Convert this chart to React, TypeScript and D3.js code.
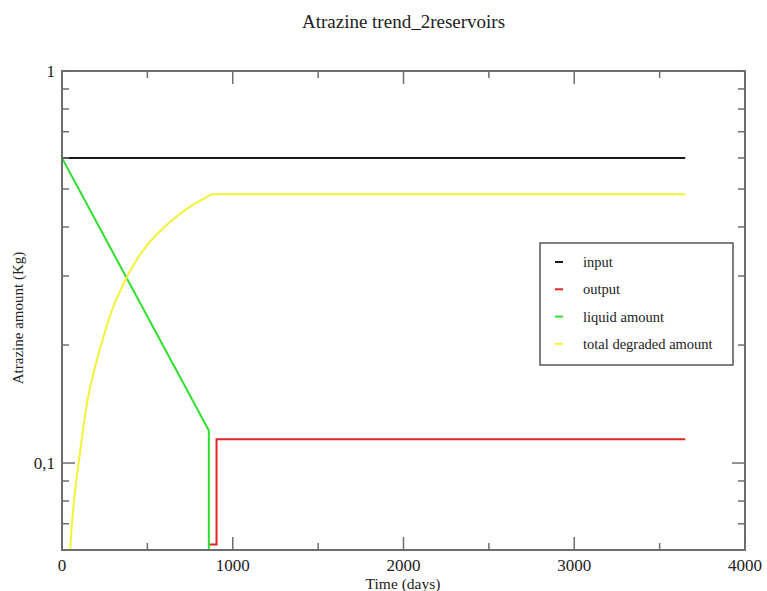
import * as d3 from 'd3';

// series (days, kg)
const inputSeries: Array<[number, number]> = [[0, 0.6], [3650, 0.6]];
const outputSeries: Array<[number, number]> = [[860, 0.062], [905, 0.062], [905, 0.115], [3650, 0.115]];
const liquidSeries: Array<[number, number]> = [[0, 0.6], [860, 0.121], [860, 0.01]];
const degradedRise: Array<[number, number]> = [
  [20, 0.025], [35, 0.045], [50, 0.062], [75, 0.084], [100, 0.102], [150, 0.145],
  [200, 0.18], [250, 0.215], [300, 0.25], [350, 0.28], [400, 0.31], [500, 0.36],
  [600, 0.4], [700, 0.435], [800, 0.464], [880, 0.485]
];
const degradedFlat: Array<[number, number]> = [[880, 0.485], [3650, 0.485]];

const xMajor = [0, 1000, 2000, 3000, 4000];
const xMinor = [500, 1500, 2500, 3500];
const yMajor = [0.1, 1];
const yMinor = [0.07, 0.08, 0.09, 0.2, 0.3, 0.4, 0.5, 0.6, 0.7, 0.8, 0.9];
const yLabels = ['0,1', '1'];

const legendItems = [
  { name: 'input', color: '#1a1a1a' },
  { name: 'output', color: '#e02424' },
  { name: 'liquid amount', color: '#2ee02e' },
  { name: 'total degraded amount', color: '#f2f236' }
];

export default function App() {
  const width = 767, height = 591;
  const left = 62, right = 745, top = 71, bottom = 550;
  const x = d3.scaleLinear().domain([0, 4000]).range([left, right]);
  const y = d3.scaleLog().domain([0.06, 1]).range([bottom, top]);
  const line = d3.line<[number, number]>().x(d => x(d[0])).y(d => y(d[1]));
  const smooth = d3.line<[number, number]>().x(d => x(d[0])).y(d => y(d[1])).curve(d3.curveMonotoneX);
  const font = '"Liberation Serif", "DejaVu Serif", serif';
  const axisColor = '#6e6e6e';
  const majLen = 13, minLen = 7;

  return (
    <svg width={width} height={height} style={{ position: 'absolute', left: 0, top: 0, background: '#fff' }}>
      <defs>
        <clipPath id="plot">
          <rect x={left} y={top} width={right - left} height={bottom - top} />
        </clipPath>
      </defs>

      <text x={(left + right) / 2} y={28} textAnchor="middle" fontFamily={font} fontSize={19} fill="#222">
        Atrazine trend_2reservoirs
      </text>

      <g clipPath="url(#plot)" fill="none" strokeWidth={2}>
        <path d={line(inputSeries) || ''} stroke={legendItems[0].color} />
        <path d={line(outputSeries) || ''} stroke={legendItems[1].color} />
        <path d={line(liquidSeries) || ''} stroke={legendItems[2].color} />
        <path d={smooth(degradedRise) || ''} stroke={legendItems[3].color} />
        <path d={line(degradedFlat) || ''} stroke={legendItems[3].color} />
      </g>

      <rect x={left} y={top} width={right - left} height={bottom - top} fill="none" stroke={axisColor} strokeWidth={2} />

      {/* x ticks, bottom and top, pointing inward */}
      {xMajor.map(v => (
        <g key={'xM' + v} stroke={axisColor} strokeWidth={1.5}>
          <line x1={x(v)} x2={x(v)} y1={bottom} y2={bottom - majLen} />
          <line x1={x(v)} x2={x(v)} y1={top} y2={top + majLen} />
        </g>
      ))}
      {xMinor.map(v => (
        <g key={'xm' + v} stroke={axisColor} strokeWidth={1.5}>
          <line x1={x(v)} x2={x(v)} y1={bottom} y2={bottom - minLen} />
          <line x1={x(v)} x2={x(v)} y1={top} y2={top + minLen} />
        </g>
      ))}
      {xMajor.map(v => (
        <text key={'xl' + v} x={x(v)} y={571} textAnchor="middle" fontFamily={font} fontSize={17} fill="#222">
          {v}
        </text>
      ))}

      {/* y ticks, left and right */}
      {yMajor.map(v => (
        <g key={'yM' + v} stroke={axisColor} strokeWidth={1.5}>
          <line x1={left} x2={left + majLen} y1={y(v)} y2={y(v)} />
          <line x1={right} x2={right - majLen} y1={y(v)} y2={y(v)} />
        </g>
      ))}
      {yMinor.map(v => (
        <g key={'ym' + v} stroke={axisColor} strokeWidth={1.5}>
          <line x1={left} x2={left + minLen} y1={y(v)} y2={y(v)} />
          <line x1={right} x2={right - minLen} y1={y(v)} y2={y(v)} />
        </g>
      ))}
      {yMajor.map((v, i) => (
        <text key={'yl' + v} x={55} y={y(v) + 6} textAnchor="end" fontFamily={font} fontSize={17} fill="#222">
          {yLabels[i]}
        </text>
      ))}

      <text x={403} y={589} textAnchor="middle" fontFamily={font} fontSize={15.5} fill="#222">
        Time (days)
      </text>
      <text transform="translate(23,318) rotate(-90)" textAnchor="middle"
        fontFamily={font} fontSize={15} fill="#222">
        Atrazine amount (Kg)
      </text>

      {/* legend */}
      <rect x={540} y={243} width={193} height={122} fill="#fff" stroke="#555" strokeWidth={1.5} />
      {legendItems.map((item, i) => (
        <g key={item.name} transform={`translate(0,${262 + i * 27.3})`}>
          <line x1={555} x2={563} y1={0} y2={0} stroke={item.color} strokeWidth={2} />
          <text x={583} y={5} fontFamily={font} fontSize={14.5} fill="#222">{item.name}</text>
        </g>
      ))}
    </svg>
  );
}
